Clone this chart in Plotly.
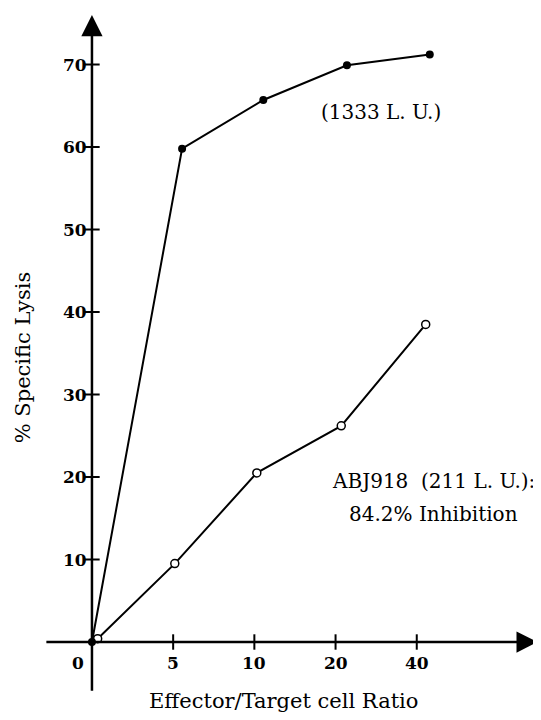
import plotly.graph_objects as go

# ---- data ----
ratio_labels = ["0", "5", "10", "20", "40"]          # E/T categories (equally spaced)
ratio_pos = [0, 1, 2, 3, 4]
y_ticks = [10, 20, 30, 40, 50, 60, 70]

# control (filled dots), position along category axis as drawn
ctrl_x = [0, 1.11, 2.11, 3.14, 4.16]
ctrl_y = [0, 59.8, 65.7, 69.9, 71.2]

# ABJ918 (open circles)
abj_x = [0.07, 1.02, 2.03, 3.07, 4.11]
abj_y = [0.4, 9.5, 20.5, 26.2, 38.5]

SERIF = "DejaVu Serif"
W, H = 533, 712
X0, X1 = -1.034, 5.530
Y0, Y1 = -9.455, 76.85

fig = go.Figure()

# axis tick marks
fig.add_trace(go.Scatter(x=ratio_pos[1:], y=[0] * 4, mode="markers",
                         marker=dict(symbol="line-ns", size=11, line=dict(width=2, color="black")),
                         hoverinfo="skip", showlegend=False, cliponaxis=False))
fig.add_trace(go.Scatter(x=[0] * len(y_ticks), y=y_ticks, mode="markers",
                         marker=dict(symbol="line-ew", size=11, line=dict(width=2, color="black")),
                         hoverinfo="skip", showlegend=False, cliponaxis=False))

# series
fig.add_trace(go.Scatter(x=abj_x, y=abj_y, mode="lines+markers",
                         line=dict(color="black", width=2),
                         marker=dict(symbol="circle", size=8, color="white",
                                     line=dict(color="black", width=1.5)),
                         showlegend=False, cliponaxis=False))
fig.add_trace(go.Scatter(x=ctrl_x, y=ctrl_y, mode="lines+markers",
                         line=dict(color="black", width=2),
                         marker=dict(symbol="circle", size=8, color="black"),
                         showlegend=False, cliponaxis=False))

ann = []
# axes with arrow heads
ann.append(dict(x=0, y=76.0, ax=0, ay=-6.1, xref="x", yref="y", axref="x", ayref="y",
                showarrow=True, arrowhead=2, arrowwidth=2.5, arrowsize=1.7, arrowcolor="black",
                standoff=0, text=""))
ann.append(dict(x=5.49, y=0, ax=-0.58, ay=0, xref="x", yref="y", axref="x", ayref="y",
                showarrow=True, arrowhead=2, arrowwidth=2.5, arrowsize=1.7, arrowcolor="black",
                standoff=0, text=""))

# tick labels
for p, lab in zip(ratio_pos, ratio_labels):
    ann.append(dict(x=p, y=0, xref="x", yref="y", text=f"<b>{lab}</b>", showarrow=False,
                    xanchor="center", yanchor="middle", yshift=-21,
                    xshift=-14 if p == 0 else 0,
                    font=dict(family=SERIF, size=17, color="black")))
for v in y_ticks:
    ann.append(dict(x=0, y=v, xref="x", yref="y", text=f"<b>{v}</b>", showarrow=False,
                    xanchor="right", yanchor="middle", xshift=-3,
                    font=dict(family=SERIF, size=17, color="black")))

# axis titles
ann.append(dict(x=2.36, y=-7.2, xref="x", yref="y", text="Effector/Target cell Ratio",
                showarrow=False, xanchor="center", yanchor="middle",
                font=dict(family=SERIF, size=21, color="black")))
ann.append(dict(x=-0.85, y=34.5, xref="x", yref="y", text="% Specific Lysis",
                showarrow=False, textangle=-90, xanchor="center", yanchor="middle",
                font=dict(family=SERIF, size=21, color="black")))

# series labels
ann.append(dict(x=3.56, y=64.2, xref="x", yref="y", text="(1333 L. U.)",
                showarrow=False, xanchor="center", yanchor="middle",
                font=dict(family=SERIF, size=20, color="black")))
ann.append(dict(x=4.21, y=19.5, xref="x", yref="y", text="ABJ918  (211 L. U.):",
                showarrow=False, xanchor="center", yanchor="middle",
                font=dict(family=SERIF, size=20, color="black")))
ann.append(dict(x=4.21, y=15.5, xref="x", yref="y", text="84.2% Inhibition",
                showarrow=False, xanchor="center", yanchor="middle",
                font=dict(family=SERIF, size=20, color="black")))

fig.update_layout(
    width=W, height=H,
    margin=dict(l=0, r=0, t=0, b=0),
    paper_bgcolor="white", plot_bgcolor="white",
    xaxis=dict(range=[X0, X1], visible=False, fixedrange=True),
    yaxis=dict(range=[Y0, Y1], visible=False, fixedrange=True),
    annotations=ann,
    showlegend=False,
)

fig.write_html("out.html")
